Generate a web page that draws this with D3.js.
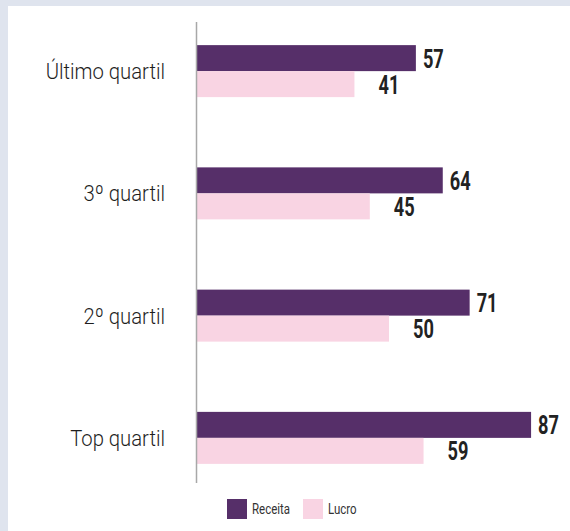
<!DOCTYPE html>
<html>
<head>
<meta charset="utf-8">
<script src="https://cdn.jsdelivr.net/npm/d3@7"></script>
<style>
  body { margin: 0; background: #dfe4ee; }
  svg { display: block; }
  text { font-family: Roboto, "DejaVu Sans Condensed", sans-serif; }
</style>
</head>
<body>
<script>
var categories = ["Último quartil", "3º quartil", "2º quartil", "Top quartil"];
var series = ["Receita", "Lucro"];
var receita = [57, 64, 71, 87];
var lucro = [41, 45, 50, 59];
var colors = { Receita: "#562f69", Lucro: "#f9d4e3" };

var width = 570, height = 531;
var squeeze = 0.7; // narrow the font to mimic a condensed face

var svg = d3.select("body").append("svg")
  .attr("width", width)
  .attr("height", height);

// white panel
svg.append("rect")
  .attr("x", 8).attr("y", 6)
  .attr("width", width).attr("height", height)
  .attr("fill", "#fff");

var xScale = d3.scaleLinear()
  .domain([0, 100])
  .range([197, 581]);

var yScale = d3.scaleBand()
  .domain(categories)
  .range([10, 499]);

var sub = d3.scaleBand()
  .domain(series)
  .range([-26, 26]);

var rows = categories.map(function (c, i) {
  return { cat: c, Receita: receita[i], Lucro: lucro[i] };
});

var g = svg.selectAll(".grp")
  .data(rows)
  .enter().append("g")
  .attr("class", "grp")
  .attr("transform", function (d) {
    return "translate(0," + (yScale(d.cat) + yScale.bandwidth() / 2) + ")";
  });

series.forEach(function (s) {
  g.append("rect")
    .attr("x", xScale(0))
    .attr("y", sub(s))
    .attr("width", function (d) { return xScale(d[s]) - xScale(0); })
    .attr("height", sub.bandwidth())
    .attr("fill", colors[s]);

  g.append("text")
    .attr("transform", function (d) {
      var x = xScale(d[s]) + (s == "Receita" ? 7 : 24);
      return "translate(" + x + "," + (sub(s) + sub.bandwidth() / 2) + ") scale(" + squeeze + ",1)";
    })
    .attr("dy", "0.36em")
    .attr("font-weight", "bold")
    .attr("font-size", 26)
    .attr("fill", "#222")
    .text(function (d) { return d[s]; });
});

g.append("text")
  .attr("transform", "translate(165,0) scale(0.9,1)")
  .attr("dy", "0.36em")
  .attr("text-anchor", "end")
  .attr("font-size", 22.5)
  .attr("font-weight", 300)
  .attr("fill", "#1e1e1e")
  .text(function (d) { return d.cat; });

// axis line
svg.append("line")
  .attr("x1", xScale(0) - 0.5).attr("x2", xScale(0) - 0.5)
  .attr("y1", 22).attr("y2", 483)
  .attr("stroke", "#a8a8a8")
  .attr("stroke-width", 1.5);

// legend
var legend = svg.selectAll(".leg")
  .data(series)
  .enter().append("g")
  .attr("class", "leg")
  .attr("transform", function (d, i) { return "translate(" + (227 + i * 76) + ",499)"; });

legend.append("rect")
  .attr("width", 20).attr("height", 20)
  .attr("fill", function (d) { return colors[d]; });

legend.append("text")
  .attr("transform", "translate(25,10) scale(0.82,1)")
  .attr("dy", "0.36em")
  .attr("font-size", 14)
  .attr("fill", "#333")
  .text(function (d) { return d; });
</script>
</body>
</html>
